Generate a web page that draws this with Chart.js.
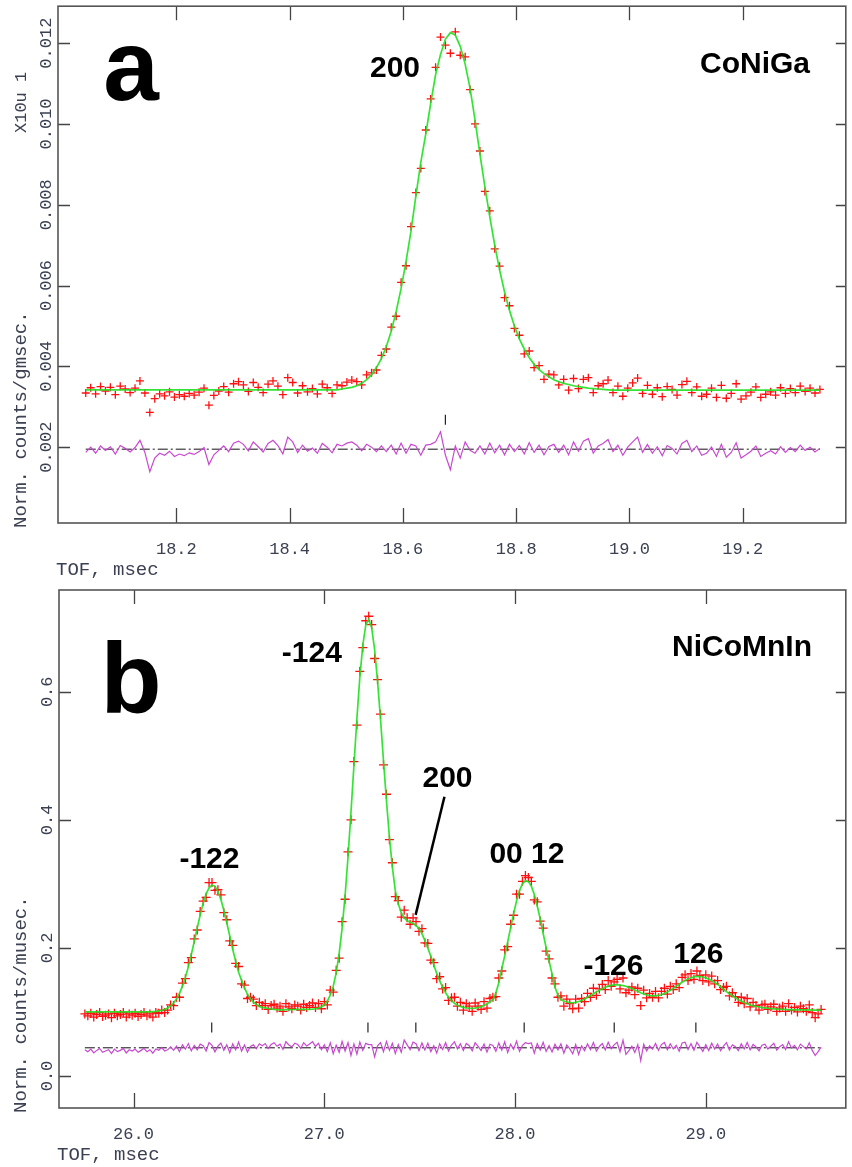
<!DOCTYPE html>
<html>
<head>
<meta charset="utf-8">
<script src="https://cdn.jsdelivr.net/npm/chart.js@4.4.0/dist/chart.umd.min.js"></script>
<style>
  html, body { margin: 0; padding: 0; background: #fff; }
  #wrap { position: relative; width: 852px; height: 1167px; overflow: hidden; }
  canvas { position: absolute; left: 0; }
  #chartA { top: 0; }
  #chartB { top: 580px; }
</style>
</head>
<body>
<div id="wrap">
  <canvas id="chartA" width="852" height="580"></canvas>
  <canvas id="chartB" width="852" height="587"></canvas>
</div>
<script>
// ---- panel a : CoNiGa, 200 reflection ----
const tofStartA = 18.04, tofStepA = 0.0087;
const obsA = [
  0.00334, 0.00347, 0.00332, 0.00350, 0.00339, 0.00348, 0.00330, 0.00351, 0.00344, 0.00335,
  0.00346, 0.00364, 0.00334, 0.00286, 0.00320, 0.00332, 0.00327, 0.00337, 0.00324, 0.00330,
  0.00326, 0.00333, 0.00329, 0.00336, 0.00346, 0.00304, 0.00328, 0.00339, 0.00350, 0.00336,
  0.00357, 0.00362, 0.00354, 0.00338, 0.00360, 0.00348, 0.00335, 0.00356, 0.00364, 0.00351,
  0.00330, 0.00372, 0.00360, 0.00334, 0.00352, 0.00337, 0.00345, 0.00332, 0.00356, 0.00347,
  0.00333, 0.00354, 0.00352, 0.00361, 0.00366, 0.00362, 0.00354, 0.00379, 0.00384, 0.00391,
  0.00427, 0.00443, 0.00497, 0.00524, 0.00608, 0.00649, 0.00746, 0.00830, 0.00890, 0.00985,
  0.01062, 0.01140, 0.01215, 0.01195, 0.01175, 0.01228, 0.01170, 0.01166, 0.01085, 0.01000,
  0.00933, 0.00833, 0.00785, 0.00691, 0.00648, 0.00570, 0.00550, 0.00494, 0.00477, 0.00431,
  0.00438, 0.00397, 0.00402, 0.00368, 0.00381, 0.00379, 0.00354, 0.00368, 0.00341, 0.00370,
  0.00345, 0.00368, 0.00372, 0.00335, 0.00352, 0.00357, 0.00366, 0.00335, 0.00351, 0.00326,
  0.00346, 0.00359, 0.00371, 0.00333, 0.00353, 0.00331, 0.00347, 0.00325, 0.00350, 0.00343,
  0.00329, 0.00355, 0.00363, 0.00335, 0.00349, 0.00326, 0.00331, 0.00346, 0.00323, 0.00353,
  0.00321, 0.00333, 0.00357, 0.00319, 0.00327, 0.00336, 0.00349, 0.00323, 0.00331, 0.00337,
  0.00329, 0.00347, 0.00333, 0.00345, 0.00335, 0.00351, 0.00338, 0.00346, 0.00334, 0.00343
];
const calcA = [
  0.00342, 0.00342, 0.00342, 0.00342, 0.00342, 0.00342, 0.00342, 0.00342, 0.00342, 0.00342,
  0.00342, 0.00342, 0.00342, 0.00342, 0.00342, 0.00342, 0.00342, 0.00342, 0.00342, 0.00342,
  0.00342, 0.00342, 0.00342, 0.00342, 0.00342, 0.00342, 0.00342, 0.00342, 0.00342, 0.00342,
  0.00342, 0.00342, 0.00342, 0.00342, 0.00342, 0.00342, 0.00342, 0.00342, 0.00342, 0.00342,
  0.00342, 0.00342, 0.00342, 0.00342, 0.00342, 0.00342, 0.00342, 0.00342, 0.00342, 0.00342,
  0.00342, 0.00342, 0.00344, 0.00346, 0.00348, 0.00352, 0.00358, 0.00367, 0.00379, 0.00397,
  0.00419, 0.00449, 0.00487, 0.00536, 0.00593, 0.00659, 0.00734, 0.00822, 0.00905, 0.00975,
  0.01050, 0.01122, 0.01172, 0.01210, 0.01226, 0.01220, 0.01192, 0.01148, 0.01088, 0.01010,
  0.00925, 0.00845, 0.00770, 0.00700, 0.00638, 0.00584, 0.00538, 0.00500, 0.00468, 0.00443,
  0.00422, 0.00405, 0.00392, 0.00382, 0.00374, 0.00367, 0.00362, 0.00358, 0.00355, 0.00352,
  0.00350, 0.00348, 0.00346, 0.00345, 0.00344, 0.00343, 0.00342, 0.00341, 0.00341, 0.00341,
  0.00341, 0.00341, 0.00341, 0.00341, 0.00341, 0.00341, 0.00341, 0.00341, 0.00341, 0.00341,
  0.00341, 0.00341, 0.00341, 0.00341, 0.00341, 0.00341, 0.00341, 0.00341, 0.00341, 0.00341,
  0.00341, 0.00341, 0.00341, 0.00341, 0.00341, 0.00341, 0.00341, 0.00341, 0.00341, 0.00341,
  0.00341, 0.00341, 0.00341, 0.00341, 0.00341, 0.00341, 0.00341, 0.00341, 0.00341, 0.00341
];
const reflA = [18.675];
const diffBaseA = 0.00195;
const xTicksA = [18.2, 18.4, 18.6, 18.8, 19.0, 19.2];
const yTicksA = [0.002, 0.004, 0.006, 0.008, 0.010, 0.012];

// ---- panel b : NiCoMnIn ----
const tofStartB = 25.745, tofStepB = 0.0155;
const obsB = [
  0.097, 0.094, 0.098, 0.092, 0.096, 0.099, 0.093, 0.095, 0.097, 0.091,
  0.098, 0.094, 0.096, 0.099, 0.092, 0.097, 0.095, 0.098, 0.093, 0.096,
  0.099, 0.094, 0.097, 0.092, 0.099, 0.098, 0.103, 0.099, 0.103, 0.111,
  0.110, 0.123, 0.123, 0.145, 0.152, 0.177, 0.185, 0.214, 0.228, 0.257,
  0.273, 0.279, 0.302, 0.302, 0.290, 0.291, 0.283, 0.255, 0.244, 0.211,
  0.204, 0.176, 0.171, 0.144, 0.142, 0.121, 0.123, 0.120, 0.110, 0.115,
  0.110, 0.113, 0.104, 0.110, 0.112, 0.106, 0.109, 0.101, 0.113, 0.108,
  0.105, 0.111, 0.109, 0.103, 0.112, 0.107, 0.110, 0.114, 0.107, 0.113,
  0.105, 0.116, 0.111, 0.134, 0.131, 0.165, 0.184, 0.241, 0.276, 0.350,
  0.400, 0.491, 0.548, 0.632, 0.669, 0.711, 0.718, 0.705, 0.652, 0.619,
  0.565, 0.486, 0.440, 0.369, 0.333, 0.280, 0.274, 0.248, 0.259, 0.247,
  0.237, 0.247, 0.241, 0.226, 0.230, 0.208, 0.207, 0.181, 0.177, 0.152,
  0.155, 0.136, 0.138, 0.118, 0.122, 0.123, 0.109, 0.115, 0.103, 0.113,
  0.109, 0.101, 0.114, 0.109, 0.104, 0.116, 0.106, 0.121, 0.123, 0.124,
  0.153, 0.164, 0.197, 0.202, 0.237, 0.251, 0.284, 0.284, 0.304, 0.313,
  0.310, 0.304, 0.275, 0.272, 0.242, 0.231, 0.195, 0.183, 0.153, 0.144,
  0.123, 0.125, 0.109, 0.120, 0.113, 0.105, 0.120, 0.106, 0.121, 0.116,
  0.129, 0.123, 0.137, 0.126, 0.136, 0.143, 0.135, 0.149, 0.140, 0.147,
  0.151, 0.136, 0.153, 0.130, 0.134, 0.139, 0.127, 0.137, 0.110, 0.134,
  0.122, 0.129, 0.123, 0.132, 0.122, 0.132, 0.137, 0.128, 0.140, 0.135,
  0.144, 0.138, 0.154, 0.158, 0.149, 0.160, 0.151, 0.164, 0.157, 0.149,
  0.158, 0.147, 0.156, 0.144, 0.149, 0.135, 0.138, 0.140, 0.125, 0.130,
  0.124, 0.115, 0.123, 0.113, 0.121, 0.108, 0.115, 0.110, 0.103, 0.111,
  0.112, 0.104, 0.108, 0.112, 0.101, 0.106, 0.109, 0.101, 0.113, 0.103,
  0.107, 0.100, 0.109, 0.105, 0.101, 0.111, 0.099, 0.091, 0.097, 0.104
];
const calcB = [
  0.1000, 0.1000, 0.1000, 0.1000, 0.1000, 0.1000, 0.1000, 0.1000, 0.1000, 0.1000,
  0.1000, 0.1000, 0.1000, 0.1000, 0.1000, 0.1000, 0.1000, 0.1000, 0.1000, 0.1000,
  0.1000, 0.1000, 0.1000, 0.1004, 0.1007, 0.1017, 0.1027, 0.1040, 0.1062, 0.1094,
  0.1139, 0.1204, 0.1291, 0.1403, 0.1541, 0.1704, 0.1898, 0.2101, 0.2312, 0.2513,
  0.2696, 0.2840, 0.2939, 0.2982, 0.2962, 0.2885, 0.2757, 0.2588, 0.2393, 0.2186,
  0.1979, 0.1792, 0.1619, 0.1493, 0.1375, 0.1276, 0.1207, 0.1154, 0.1115, 0.1087,
  0.1067, 0.1063, 0.1054, 0.1046, 0.1040, 0.1036, 0.1033, 0.1034, 0.1035, 0.1036,
  0.1037, 0.1038, 0.1039, 0.1040, 0.1040, 0.1040, 0.1041, 0.1043, 0.1050, 0.1060,
  0.1079, 0.1112, 0.1169, 0.1261, 0.1403, 0.1610, 0.1910, 0.2310, 0.2810, 0.3420,
  0.4120, 0.4850, 0.5580, 0.6230, 0.6730, 0.7040, 0.7130, 0.7000, 0.6660, 0.6160,
  0.5570, 0.4920, 0.4300, 0.3730, 0.3260, 0.2890, 0.2690, 0.2550, 0.2470, 0.2425,
  0.2400, 0.2380, 0.2347, 0.2306, 0.2224, 0.2115, 0.1997, 0.1870, 0.1737, 0.1602,
  0.1487, 0.1385, 0.1300, 0.1230, 0.1176, 0.1135, 0.1106, 0.1086, 0.1072, 0.1063,
  0.1058, 0.1056, 0.1061, 0.1069, 0.1083, 0.1101, 0.1127, 0.1155, 0.1195, 0.1295,
  0.1455, 0.1675, 0.1875, 0.2095, 0.2315, 0.2535, 0.2735, 0.2895, 0.3001, 0.3051,
  0.3035, 0.2965, 0.2835, 0.2655, 0.2455, 0.2225, 0.2005, 0.1795, 0.1595, 0.1385,
  0.1262, 0.1188, 0.1172, 0.1156, 0.1146, 0.1144, 0.1149, 0.1164, 0.1180, 0.1204,
  0.1230, 0.1257, 0.1285, 0.1313, 0.1339, 0.1364, 0.1385, 0.1403, 0.1416, 0.1423,
  0.1425, 0.1421, 0.1411, 0.1401, 0.1384, 0.1365, 0.1343, 0.1322, 0.1301, 0.1283,
  0.1267, 0.1257, 0.1251, 0.1251, 0.1258, 0.1269, 0.1287, 0.1310, 0.1337, 0.1368,
  0.1400, 0.1433, 0.1465, 0.1493, 0.1518, 0.1535, 0.1548, 0.1555, 0.1553, 0.1546,
  0.1532, 0.1513, 0.1489, 0.1460, 0.1430, 0.1396, 0.1352, 0.1318, 0.1284, 0.1252,
  0.1222, 0.1194, 0.1169, 0.1147, 0.1128, 0.1111, 0.1097, 0.1086, 0.1077, 0.1069,
  0.1063, 0.1058, 0.1053, 0.1049, 0.1045, 0.1042, 0.1040, 0.1038, 0.1036, 0.1035,
  0.1034, 0.1033, 0.1032, 0.1032, 0.1031, 0.1031, 0.1030, 0.1030, 0.1030, 0.1030
];
const reflB = [26.41, 27.229, 27.48, 28.048, 28.52, 28.948];
const diffBaseB = 0.044;
const xTicksB = [26.0, 27.0, 28.0, 29.0];
const yTicksB = [0.0, 0.2, 0.4, 0.6];

const AXIS_FONT = '"Liberation Mono", "DejaVu Sans Mono", monospace';
const BOLD_FONT = '"Liberation Sans", Arial, sans-serif';
const AXIS_COLOR = '#3b4152';

function channels(start, step, n) {
    const out = [];
    for (let i = 0; i < n; i++) out.push(+(start + i * step).toFixed(4));
    return out;
}

// draws the GSAS style frame: inward ticks, rotated y labels, titles, notes
function framePlugin(p) {
    return {
        id: 'gsasFrame',
        afterDatasetsDraw(chart) {
            const ctx = chart.ctx;
            const a = chart.chartArea;
            const sx = chart.scales.x, sy = chart.scales.y;
            ctx.save();

            ctx.strokeStyle = '#444';
            ctx.lineWidth = 1.3;
            ctx.beginPath();
            p.xTicks.forEach(v => {
                const px = Math.round(sx.getPixelForValue(v)) + 0.5;
                ctx.moveTo(px, a.bottom); ctx.lineTo(px, a.bottom - 15);
                ctx.moveTo(px, a.top); ctx.lineTo(px, a.top + 14);
            });
            p.yTicks.forEach(v => {
                const py = Math.round(sy.getPixelForValue(v)) + 0.5;
                ctx.moveTo(a.left, py); ctx.lineTo(a.left + 12, py);
                ctx.moveTo(a.right, py); ctx.lineTo(a.right - 10, py);
            });
            ctx.stroke();

            ctx.strokeStyle = '#555';
            ctx.lineWidth = 1.6;
            ctx.strokeRect(a.left, a.top, a.right - a.left, a.bottom - a.top);

            // tick labels
            ctx.fillStyle = AXIS_COLOR;
            ctx.font = '17px ' + AXIS_FONT;
            ctx.textAlign = 'center';
            ctx.textBaseline = 'middle';
            p.xTicks.forEach(v => {
                ctx.fillText(v.toFixed(1), sx.getPixelForValue(v), a.bottom + 26);
            });
            p.yTicks.forEach(v => {
                ctx.save();
                ctx.translate(a.left - 12, sy.getPixelForValue(v));
                ctx.rotate(-Math.PI / 2);
                ctx.fillText(v.toFixed(p.yDigits), 0, 0);
                ctx.restore();
            });

            // axis titles
            ctx.font = '19px ' + AXIS_FONT;
            ctx.textAlign = 'left';
            ctx.fillText('TOF, msec', a.left - 2, a.bottom + 47);
            ctx.save();
            ctx.translate(21, a.bottom + 5);
            ctx.rotate(-Math.PI / 2);
            ctx.fillText(p.yTitle, 0, 0);
            ctx.restore();
            if (p.scaleNote) {
                ctx.save();
                ctx.font = '17px ' + AXIS_FONT;
                ctx.translate(21, p.scaleNote.y);
                ctx.rotate(-Math.PI / 2);
                ctx.fillText(p.scaleNote.text, 0, 0);
                ctx.restore();
            }

            // panel letter and sample name
            ctx.fillStyle = '#000';
            ctx.textBaseline = 'alphabetic';
            ctx.textAlign = 'center';
            ctx.font = 'bold 100px ' + BOLD_FONT;
            ctx.fillText(p.letter.text, p.letter.x, p.letter.y);
            ctx.textAlign = 'right';
            ctx.font = 'bold 30px ' + BOLD_FONT;
            ctx.fillText(p.sample.text, p.sample.x, p.sample.y);

            // reflection labels, placed in data coordinates
            ctx.textAlign = 'center';
            p.peaks.forEach(pk => {
                ctx.fillText(pk.text, sx.getPixelForValue(pk.tof), sy.getPixelForValue(pk.val));
            });
            if (p.leader) {
                ctx.strokeStyle = '#000';
                ctx.lineWidth = 2.5;
                ctx.beginPath();
                ctx.moveTo(sx.getPixelForValue(p.leader[0][0]), sy.getPixelForValue(p.leader[0][1]));
                ctx.lineTo(sx.getPixelForValue(p.leader[1][0]), sy.getPixelForValue(p.leader[1][1]));
                ctx.stroke();
            }
            ctx.restore();
        }
    };
}

function buildPanel(canvasId, d) {
    const tof = channels(d.start, d.step, d.obs.length);
    const obsPts = tof.map((t, i) => ({x: t, y: d.obs[i]}));
    const calcPts = tof.map((t, i) => ({x: t, y: d.calc[i]}));
    const diffPts = tof.map((t, i) => ({x: t, y: d.diffBase + d.obs[i] - d.calc[i]}));
    const zeroPts = [{x: tof[0], y: d.diffBase}, {x: tof[tof.length - 1], y: d.diffBase}];
    const reflPts = d.refl.map(t => ({x: t, y: d.reflY}));

    return new Chart(document.getElementById(canvasId), {
        type: 'scatter',
        data: {
            datasets: [
                {
                    data: reflPts, pointStyle: 'line', rotation: 90, pointRadius: 5,
                    borderColor: '#222', borderWidth: 1.2, order: 0
                },
                {
                    data: calcPts, showLine: true, pointRadius: 0,
                    borderColor: 'rgba(30,225,30,0.9)', borderWidth: 1.7, order: 1
                },
                {
                    data: obsPts, pointStyle: 'cross', pointRadius: d.plusSize,
                    borderColor: '#ff1010', borderWidth: 1.3, order: 2
                },
                {
                    data: diffPts, showLine: true, pointRadius: 0,
                    borderColor: '#c848d0', borderWidth: 1.2, order: 3
                },
                {
                    data: zeroPts, showLine: true, pointRadius: 0,
                    borderColor: '#111', borderWidth: 1, borderDash: [10, 3, 2, 3], order: 4
                }
            ]
        },
        options: {
            responsive: false,
            animation: false,
            devicePixelRatio: 1,
            events: [],
            layout: {padding: d.padding},
            plugins: {legend: {display: false}, tooltip: {enabled: false}},
            scales: {
                x: {type: 'linear', min: d.xMin, max: d.xMax, display: false},
                y: {type: 'linear', min: d.yMin, max: d.yMax, display: false}
            }
        },
        plugins: [framePlugin(d.frame)]
    });
}

buildPanel('chartA', {
    start: tofStartA, step: tofStepA, obs: obsA, calc: calcA,
    diffBase: diffBaseA, refl: reflA, reflY: 0.00268, plusSize: 4,
    xMin: 17.991, xMax: 19.382, yMin: 0.000123, yMax: 0.012914,
    padding: {left: 58, top: 5, right: 1, bottom: 57},
    frame: {
        xTicks: xTicksA, yTicks: yTicksA, yDigits: 3,
        yTitle: 'Norm. counts/gmsec.',
        scaleNote: {text: 'X10u 1', y: 133},
        letter: {text: 'a', x: 131, y: 100},
        sample: {text: 'CoNiGa', x: 810, y: 73},
        peaks: [{text: '200', tof: 18.586, val: 0.01116}]
    }
});

buildPanel('chartB', {
    start: tofStartB, step: tofStepB, obs: obsB, calc: calcB,
    diffBase: diffBaseB, refl: reflB, reflY: 0.0758, plusSize: 4.5,
    xMin: 25.6094, xMax: 29.734, yMin: -0.05, yMax: 0.759,
    padding: {left: 59, top: 10, right: 1, bottom: 59},
    frame: {
        xTicks: xTicksB, yTicks: yTicksB, yDigits: 1,
        yTitle: 'Norm. counts/musec.',
        scaleNote: null,
        letter: {text: 'b', x: 131, y: 133},
        sample: {text: 'NiCoMnIn', x: 812, y: 76},
        peaks: [
            {text: '-124', tof: 26.935, val: 0.647},
            {text: '200', tof: 27.646, val: 0.4516},
            {text: '-122', tof: 26.398, val: 0.325},
            {text: '00 12', tof: 28.0625, val: 0.333},
            {text: '-126', tof: 28.516, val: 0.158},
            {text: '126', tof: 28.961, val: 0.1766}
        ],
        leader: [[27.630, 0.436], [27.479, 0.2516]]
    }
});
</script>
</body>
</html>
